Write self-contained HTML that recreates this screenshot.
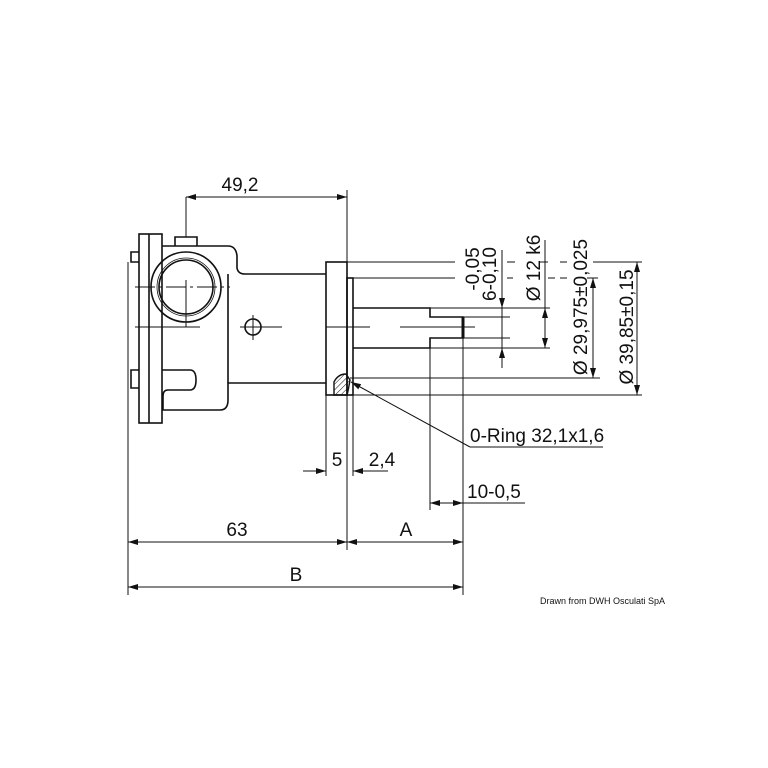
<!DOCTYPE html>
<html><head><meta charset="utf-8"><style>
html,body{margin:0;padding:0;background:#fff;}
svg{display:block}
text{font-family:"Liberation Sans",sans-serif;fill:#111}
</style></head><body>
<svg width="768" height="768" viewBox="0 0 768 768" xmlns="http://www.w3.org/2000/svg">
<defs>
<marker id="a" viewBox="0 0 10 6" refX="10" refY="3" markerWidth="10" markerHeight="6" orient="auto-start-reverse" markerUnits="userSpaceOnUse"><path d="M0,0L10,3L0,6z" fill="#111"/></marker>
<pattern id="h" width="4" height="4" patternUnits="userSpaceOnUse" patternTransform="rotate(45)"><line x1="0" y1="0" x2="0" y2="4" stroke="#111" stroke-width="1"/></pattern>
</defs>
<g fill="none" stroke="#111" stroke-width="1.6">
<rect x="139" y="234" width="23" height="189"/>
<line x1="149" y1="234" x2="149" y2="423"/>
<path d="M139,252 H131 V262 H139 M139,370 H131 V388 H139"/>
<path d="M175,246 V237 H197 V246"/>
<path d="M162,246 H228 Q236,246 237,256 L237,268 Q238,274 245,274 H326 M162,370 H190 Q196,370 196,380 Q196,390 190,390 H168 Q163,390 163,396 V410 H220 Q228,410 228,400 V383 H326"/>
<path d="M228,274 V383"/>
<circle cx="186" cy="287" r="35"/>
<circle cx="186" cy="287" r="27"/>
<circle cx="186" cy="287" r="29" stroke-width="0.8"/>
<circle cx="253" cy="327" r="8"/>
<rect x="326" y="262" width="21" height="133"/>
<rect x="347" y="278" width="6" height="117"/>
<path d="M353,308 H430 V317 H463 V338 H430 V348 H353"/>
<line x1="463" y1="317" x2="463" y2="338" stroke-width="3"/>
</g>
<path d="M334,395 V382 Q338,374 346,374 L350,380 Q348,392 347,395 Z" fill="url(#h)" stroke="#111" stroke-width="1.4"/>
<g fill="none" stroke="#111" stroke-width="1">
<line x1="135" y1="287" x2="230" y2="287" stroke-dasharray="20,4,3,4"/>
<line x1="186" y1="280" x2="186" y2="327"/>
<line x1="135" y1="327" x2="200" y2="327"/>
<line x1="240" y1="327" x2="282" y2="327"/>
<line x1="253" y1="315" x2="253" y2="340"/>
<line x1="326" y1="327" x2="370" y2="327"/>
<line x1="400" y1="327" x2="475" y2="327"/>
<!-- horizontal ext lines with gaps at text -->
<line x1="347" y1="262" x2="455" y2="262"/>
<line x1="507" y1="262" x2="515" y2="262"/>
<line x1="540" y1="262" x2="548" y2="262"/>
<line x1="560" y1="262" x2="567" y2="262"/>
<line x1="593" y1="262" x2="642" y2="262"/>
<line x1="353" y1="278" x2="455" y2="278"/>
<line x1="507" y1="278" x2="513" y2="278"/>
<line x1="548" y1="278" x2="555" y2="278"/>
<line x1="560" y1="278" x2="567" y2="278"/>
<line x1="587" y1="278" x2="598" y2="278"/>
<line x1="430" y1="308" x2="550" y2="308"/>
<line x1="463" y1="317" x2="510" y2="317"/>
<line x1="463" y1="338" x2="510" y2="338"/>
<line x1="430" y1="348" x2="550" y2="348"/>
<line x1="350" y1="378" x2="600" y2="378"/>
<line x1="347" y1="395" x2="642" y2="395"/>
<line x1="128" y1="262" x2="128" y2="595"/>
<line x1="347" y1="190" x2="347" y2="550"/>
<line x1="186" y1="197" x2="186" y2="237"/>
<line x1="326" y1="395" x2="326" y2="476"/>
<line x1="353" y1="395" x2="353" y2="476"/>
<line x1="430" y1="348" x2="430" y2="510"/>
<line x1="463" y1="338" x2="463" y2="595"/>
<line x1="186" y1="197" x2="347" y2="197" marker-start="url(#a)" marker-end="url(#a)"/>
<line x1="128" y1="542" x2="347" y2="542" marker-start="url(#a)" marker-end="url(#a)"/>
<line x1="347" y1="542" x2="463" y2="542" marker-start="url(#a)" marker-end="url(#a)"/>
<line x1="128" y1="587" x2="463" y2="587" marker-start="url(#a)" marker-end="url(#a)"/>
<line x1="303" y1="471" x2="326" y2="471" marker-end="url(#a)"/>
<line x1="388" y1="471" x2="353" y2="471" marker-end="url(#a)"/>
<line x1="430" y1="503" x2="463" y2="503" marker-start="url(#a)" marker-end="url(#a)"/>
<line x1="463" y1="503" x2="525" y2="503"/>
<line x1="502" y1="250" x2="502" y2="360"/>
<line x1="502" y1="290" x2="502" y2="308" marker-end="url(#a)"/>
<line x1="502" y1="368" x2="502" y2="348" marker-end="url(#a)"/>
<line x1="545" y1="240" x2="545" y2="308"/>
<line x1="545" y1="308" x2="545" y2="348" marker-start="url(#a)" marker-end="url(#a)"/>
<line x1="593" y1="278" x2="593" y2="378" marker-start="url(#a)" marker-end="url(#a)"/>
<line x1="637" y1="262" x2="637" y2="395" marker-start="url(#a)" marker-end="url(#a)"/>
<line x1="470" y1="447" x2="351" y2="382" marker-end="url(#a)"/>
<line x1="470" y1="447" x2="603" y2="447"/>
</g>
<g font-size="19">
<text x="240" y="191" text-anchor="middle">49,2</text>
<text x="337" y="466" text-anchor="middle">5</text>
<text x="382" y="466" text-anchor="middle">2,4</text>
<text x="467" y="498">10-0,5</text>
<text x="470" y="442">0-Ring 32,1x1,6</text>
<text x="237" y="536" text-anchor="middle">63</text>
<text x="406" y="536" text-anchor="middle">A</text>
<text x="296" y="581" text-anchor="middle">B</text>
<text transform="translate(479,269) rotate(-90)" text-anchor="middle">-0,05</text>
<text transform="translate(496,274) rotate(-90)" text-anchor="middle">6-0,10</text>
<text transform="translate(540,268) rotate(-90)" text-anchor="middle">Ø 12 k6</text>
<text transform="translate(587,307) rotate(-90)" text-anchor="middle">Ø 29,975±0,025</text>
<text transform="translate(633,327) rotate(-90)" text-anchor="middle">Ø 39,85±0,15</text>
</g>
<text x="540" y="604" font-size="9">Drawn from DWH Osculati SpA</text>
</svg>
</body></html>
